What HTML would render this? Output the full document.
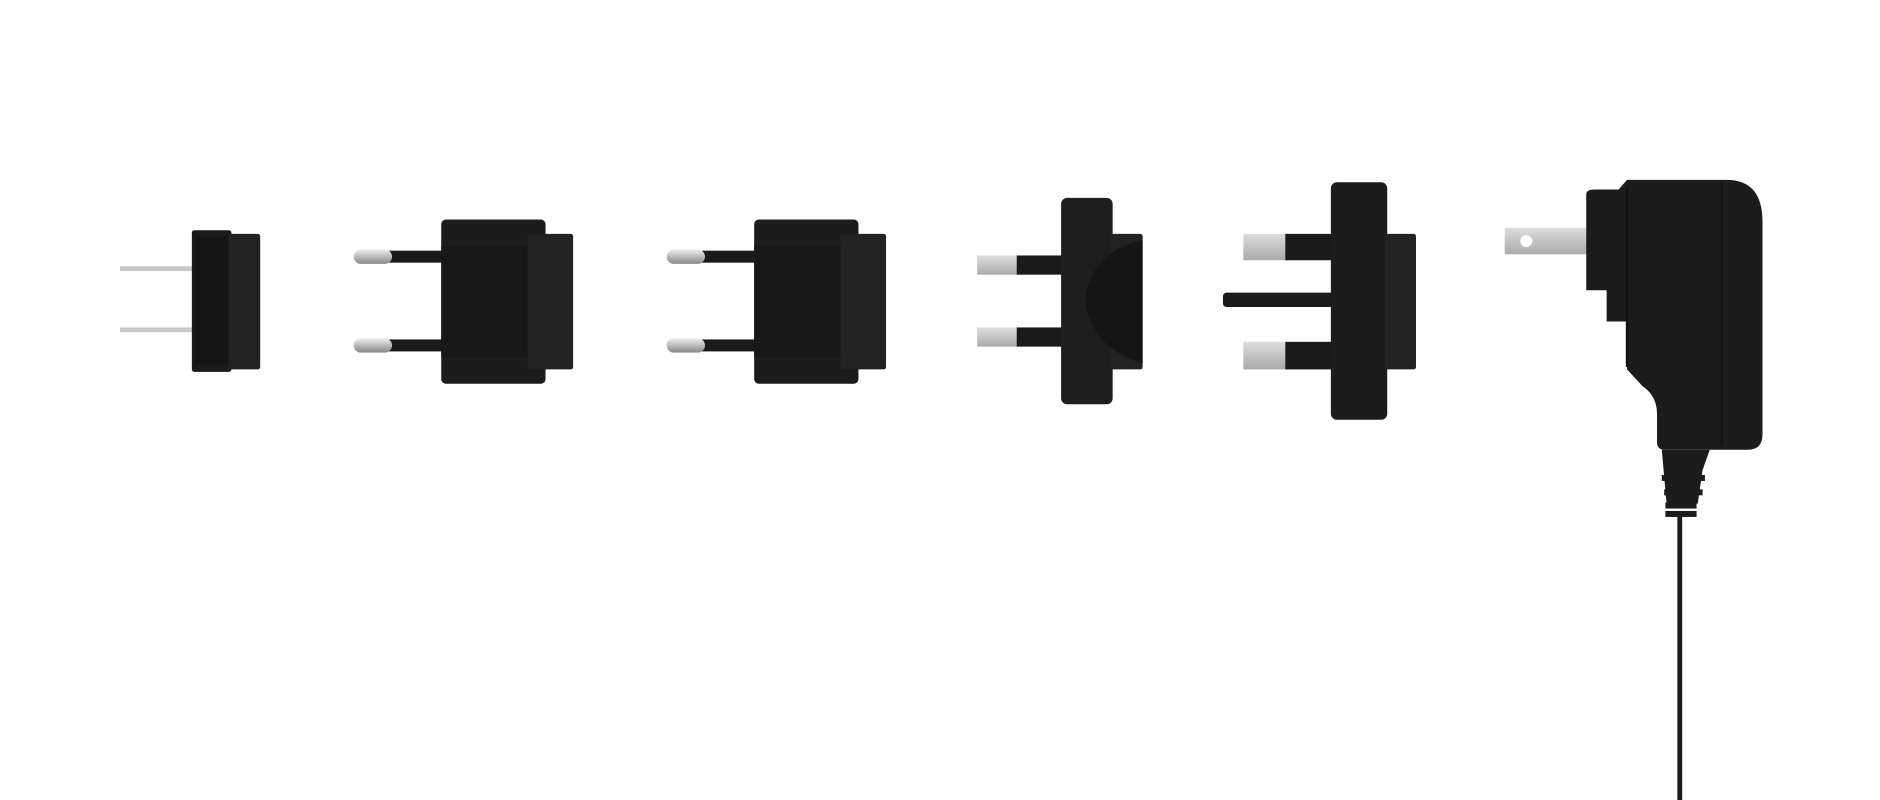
<!DOCTYPE html>
<html><head><meta charset="utf-8"><style>
html,body{margin:0;padding:0;background:#fff;width:1880px;height:800px;overflow:hidden}
svg{display:block}
</style></head><body>
<svg width="1880" height="800" viewBox="0 0 1568 667" preserveAspectRatio="none" xmlns="http://www.w3.org/2000/svg">
<defs>
<linearGradient id="sil" x1="0" y1="0" x2="0" y2="1">
<stop offset="0" stop-color="#eee"/><stop offset="0.5" stop-color="#bbb"/><stop offset="1" stop-color="#888"/>
</linearGradient>
<linearGradient id="silf" x1="0" y1="0" x2="0" y2="1">
<stop offset="0" stop-color="#ddd"/><stop offset="1" stop-color="#aaa"/>
</linearGradient>
</defs>
<rect width="1568" height="667" fill="#fff"/>

<!-- 1: US small -->
<rect x="100" y="222" width="62" height="4" fill="#c8c8c8"/>
<rect x="100" y="273" width="62" height="4" fill="#c8c8c8"/>
<rect x="160" y="192" width="33" height="118" rx="2" fill="#1a1a1a"/>
<rect x="191" y="195" width="26" height="113" rx="2" fill="#222"/>
<rect x="162" y="198" width="28" height="106" fill="#151515"/>

<!-- 2: EU 1 -->
<g>
<rect x="322" y="209" width="48" height="10" fill="#1a1a1a"/>
<rect x="322" y="283" width="48" height="10" fill="#1a1a1a"/>
<rect x="295" y="208" width="32" height="12" rx="6" fill="url(#sil)"/>
<rect x="295" y="282" width="32" height="12" rx="6" fill="url(#sil)"/>
<rect x="368" y="183" width="87" height="137" rx="4" fill="#1c1c1c"/>
<rect x="440" y="195" width="38" height="113" rx="2" fill="#222"/>
<rect x="368" y="205" width="72" height="93" fill="#181818"/>
</g>
<!-- 3: EU 2 -->
<g transform="translate(261,0)">
<rect x="322" y="209" width="48" height="10" fill="#1a1a1a"/>
<rect x="322" y="283" width="48" height="10" fill="#1a1a1a"/>
<rect x="295" y="208" width="32" height="12" rx="6" fill="url(#sil)"/>
<rect x="295" y="282" width="32" height="12" rx="6" fill="url(#sil)"/>
<rect x="368" y="183" width="87" height="137" rx="4" fill="#1c1c1c"/>
<rect x="440" y="195" width="38" height="113" rx="2" fill="#222"/>
<rect x="368" y="205" width="72" height="93" fill="#181818"/>
</g>

<!-- 4: UK small -->
<rect x="815" y="213" width="36" height="16" fill="url(#silf)"/>
<rect x="815" y="273" width="36" height="16" fill="url(#silf)"/>
<rect x="848" y="213" width="40" height="16" fill="#1a1a1a"/>
<rect x="848" y="273" width="40" height="16" fill="#1a1a1a"/>
<rect x="885" y="165" width="43" height="172" rx="5" fill="#1e1e1e"/>
<rect x="926" y="195" width="27" height="113" rx="2" fill="#222"/>
<path d="M953,240 L953,200 Q910,210 905,250 Q910,290 953,303 Z" fill="#151515"/>

<!-- 5: UK big -->
<rect x="1020" y="244" width="92" height="12" rx="3" fill="#1a1a1a"/>
<rect x="1037" y="195" width="37" height="22" fill="url(#silf)"/>
<rect x="1037" y="285" width="37" height="23" fill="url(#silf)"/>
<rect x="1072" y="195" width="40" height="22" fill="#1a1a1a"/>
<rect x="1072" y="285" width="40" height="23" fill="#1a1a1a"/>
<rect x="1110" y="152" width="47" height="198" rx="5" fill="#1c1c1c"/>
<rect x="1155" y="195" width="26" height="113" rx="2" fill="#222"/>

<!-- 6: charger -->
<rect x="1255" y="190" width="70" height="22" fill="url(#silf)"/>
<circle cx="1273" cy="201" r="5" fill="#fff"/>
<path d="M1330,158 L1350,158 L1357,150 L1440,150 Q1470,150 1470,185 L1470,362 Q1470,375 1458,375 L1388,375 Q1382,375 1382,368 L1382,345 Q1382,330 1370,322 L1357,308 L1357,268 L1340,268 L1340,242 L1323,242 L1323,162 Q1323,158 1330,158 Z" fill="#1c1c1c"/>
<rect x="1356" y="156" width="2" height="150" fill="#111"/>
<rect x="1435" y="152" width="2" height="220" fill="#141414"/>
<path d="M1386,375 L1426,375 L1420,392 L1416,420 L1390,420 Z" fill="#1c1c1c"/>
<rect x="1386" y="396" width="36" height="5" fill="#1c1c1c"/>
<rect x="1388" y="408" width="32" height="5" fill="#1c1c1c"/>
<rect x="1389" y="419" width="26" height="5" fill="#1c1c1c"/>
<rect x="1389" y="426" width="26" height="5" fill="#1c1c1c"/>
<rect x="1399" y="430" width="4" height="237" fill="#1c1c1c"/>
</svg>
</body></html>
